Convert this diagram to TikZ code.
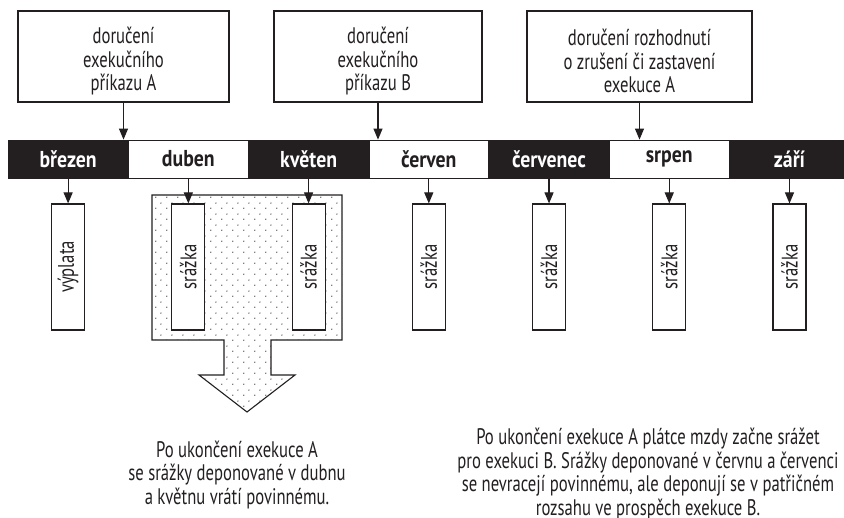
\documentclass[tikz,border=0pt]{standalone}
\usepackage{fontspec}
\setmainfont{PT Sans}[FakeStretch=0.74, BoldFeatures={FakeStretch=0.86}]
\usetikzlibrary{arrows.meta,patterns}
\definecolor{ink}{HTML}{231F20}
\pgfdeclarepatternformonly{stagdots}{\pgfqpoint{0pt}{0pt}}{\pgfqpoint{11pt}{11pt}}{\pgfqpoint{11pt}{11pt}}{%
  \pgfpathcircle{\pgfqpoint{2pt}{2pt}}{0.75pt}%
  \pgfpathcircle{\pgfqpoint{7.5pt}{7.5pt}}{0.75pt}%
  \pgfusepath{fill}}
\newcommand{\lowerfirst}{\rule{0pt}{26pt}}
\begin{document}
\begin{tikzpicture}[x=1pt,y=-1pt,
  txt/.style={font=\fontsize{22.5}{23.5}\selectfont, text=ink},
  topbox/.style={txt, draw=ink, line width=1.1pt, fill=white, minimum height=91pt, inner sep=0pt, align=center},
  monthdark/.style={font=\fontsize{23}{23.5}\selectfont\bfseries, fill=ink, draw=ink, text=white, minimum width=119.43pt, minimum height=38pt, inner sep=0pt, line width=0.8pt},
  monthlight/.style={monthdark, fill=white, text=ink},
  vbox/.style={txt, draw=ink, fill=white, line width=1.1pt, minimum width=33pt, minimum height=126pt, inner sep=0pt},
  arr/.style={draw=ink, line width=1.1pt, -{Triangle[length=11pt,width=9pt]}},
  note/.style={txt, align=center}]
\useasboundingbox (0,0) rectangle (844,518);

% top boxes
\node[topbox, minimum width=211pt] (A) at (123.5,56.5) {\lowerfirst doručení\\exekučního\\příkazu A};
\node[topbox, minimum width=208pt] (B) at (378,56.5) {\lowerfirst doručení\\exekučního\\příkazu B};
\node[topbox, minimum width=225pt] (C) at (639.5,56.5) {\lowerfirst doručení rozhodnutí\\o zrušení či zastavení\\exekuce A};

% dotted arrow
\draw[ink, line width=1.1pt, pattern=stagdots, pattern color=ink!80]
  (152,195) -- (342,195) -- (342,340) -- (271,340) -- (271,375) -- (295,375)
  -- (247,412) -- (199,375) -- (224,375) -- (224,340) -- (152,340) -- cycle;

% timeline
\node[monthdark, anchor=west]  (m1) at (8,159) {březen};
\node[monthlight, anchor=west] (m2) at (m1.east) {duben};
\node[monthdark, anchor=west]  (m3) at (m2.east) {květen};
\node[monthlight, anchor=west] (m4) at (m3.east) {červen};
\node[monthdark, anchor=west]  (m5) at (m4.east) {červenec};
\node[monthlight, anchor=west] (m6) at (m5.east) {srpen};
\node[monthdark, anchor=west]  (m7) at (m6.east) {září};

\draw[arr] (A.south) -- (A.south |- m1.north);
\draw[arr] (B.south) -- (B.south |- m1.north);
\draw[arr] (C.south) -- (C.south |- m1.north);

% vertical boxes
\node[vbox] (b1) at (m1.south |- 0,267) {\rotatebox{90}{výplata}};
\node[vbox] (b2) at (m2.south |- 0,267) {\rotatebox{90}{srážka}};
\node[vbox] (b3) at (m3.south |- 0,267) {\rotatebox{90}{srážka}};
\node[vbox] (b4) at (m4.south |- 0,267) {\rotatebox{90}{srážka}};
\node[vbox] (b5) at (m5.south |- 0,267) {\rotatebox{90}{srážka}};
\node[vbox] (b6) at (m6.south |- 0,267) {\rotatebox{90}{srážka}};
\node[vbox] (b7) at (m7.south |- 0,267) {\rotatebox{90}{srážka}};

\foreach \i in {1,...,7} {\draw[arr] (m\i.south) -- (b\i.north);}

% notes
\node[note] (n1) at (237,475) {Po ukončení exekuce A\\se srážky deponované v dubnu\\a květnu vrátí povinnému.};
\node[note] (n2) at (648,474) {Po ukončení exekuce A plátce mzdy začne srážet\\pro exekuci B. Srážky deponované v červnu a červenci\\se nevracejí povinnému, ale deponují se v patřičném\\rozsahu ve prospěch exekuce B.};
\end{tikzpicture}
\end{document}
